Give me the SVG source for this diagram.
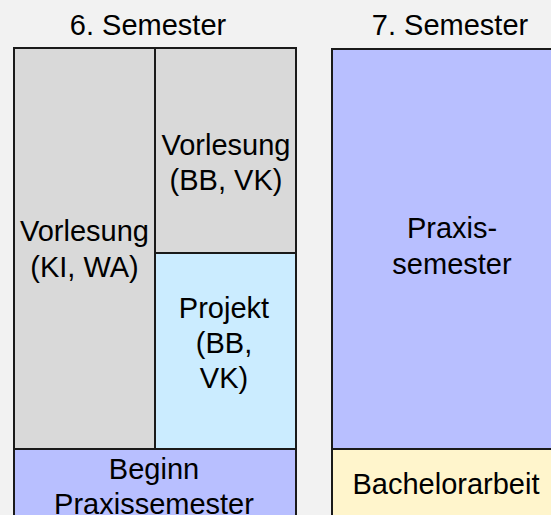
<svg xmlns="http://www.w3.org/2000/svg" width="551" height="515" viewBox="0 0 551 515">
<style>
.b{stroke:#1a1a1a;stroke-width:2}
.t{font-family:"Liberation Sans",Arial,sans-serif;font-size:29px;fill:#000;text-anchor:middle}
</style>
<rect width="551" height="515" fill="#f2f2f2"/>
<text class="t" x="148" y="35">6. Semester</text>
<text class="t" x="450" y="35">7. Semester</text>
<g id="vorlesung-ki-wa">
<rect class="b" x="14" y="48" width="141" height="401" fill="#d9d9d9"/>
<text class="t" x="84.5" y="240.5">Vorlesung</text>
<text class="t" x="84.5" y="276.5">(KI, WA)</text>
</g>
<g id="vorlesung-bb-vk">
<rect class="b" x="155" y="48" width="141" height="205" fill="#d9d9d9"/>
<text class="t" x="226" y="155">Vorlesung</text>
<text class="t" x="226" y="190">(BB, VK)</text>
</g>
<g id="projekt">
<rect class="b" x="155" y="253" width="141" height="196" fill="#cbecff"/>
<text class="t" x="224" y="318">Projekt</text>
<text class="t" x="224" y="353">(BB,</text>
<text class="t" x="224" y="388">VK)</text>
</g>
<g id="beginn">
<rect class="b" x="14" y="449" width="282" height="80" fill="#b8bfff"/>
<text class="t" x="154" y="479">Beginn</text>
<text class="t" x="154" y="514">Praxissemester</text>
</g>
<g id="praxissemester">
<rect class="b" x="332" y="49" width="240" height="400" fill="#b8bfff"/>
<text class="t" x="452" y="238">Praxis-</text>
<text class="t" x="452" y="274">semester</text>
</g>
<g id="bachelorarbeit">
<rect class="b" x="332" y="449" width="240" height="80" fill="#fff5cc"/>
<text class="t" x="446" y="494">Bachelorarbeit</text>
</g>
<g id="connectors"/>
</svg>
